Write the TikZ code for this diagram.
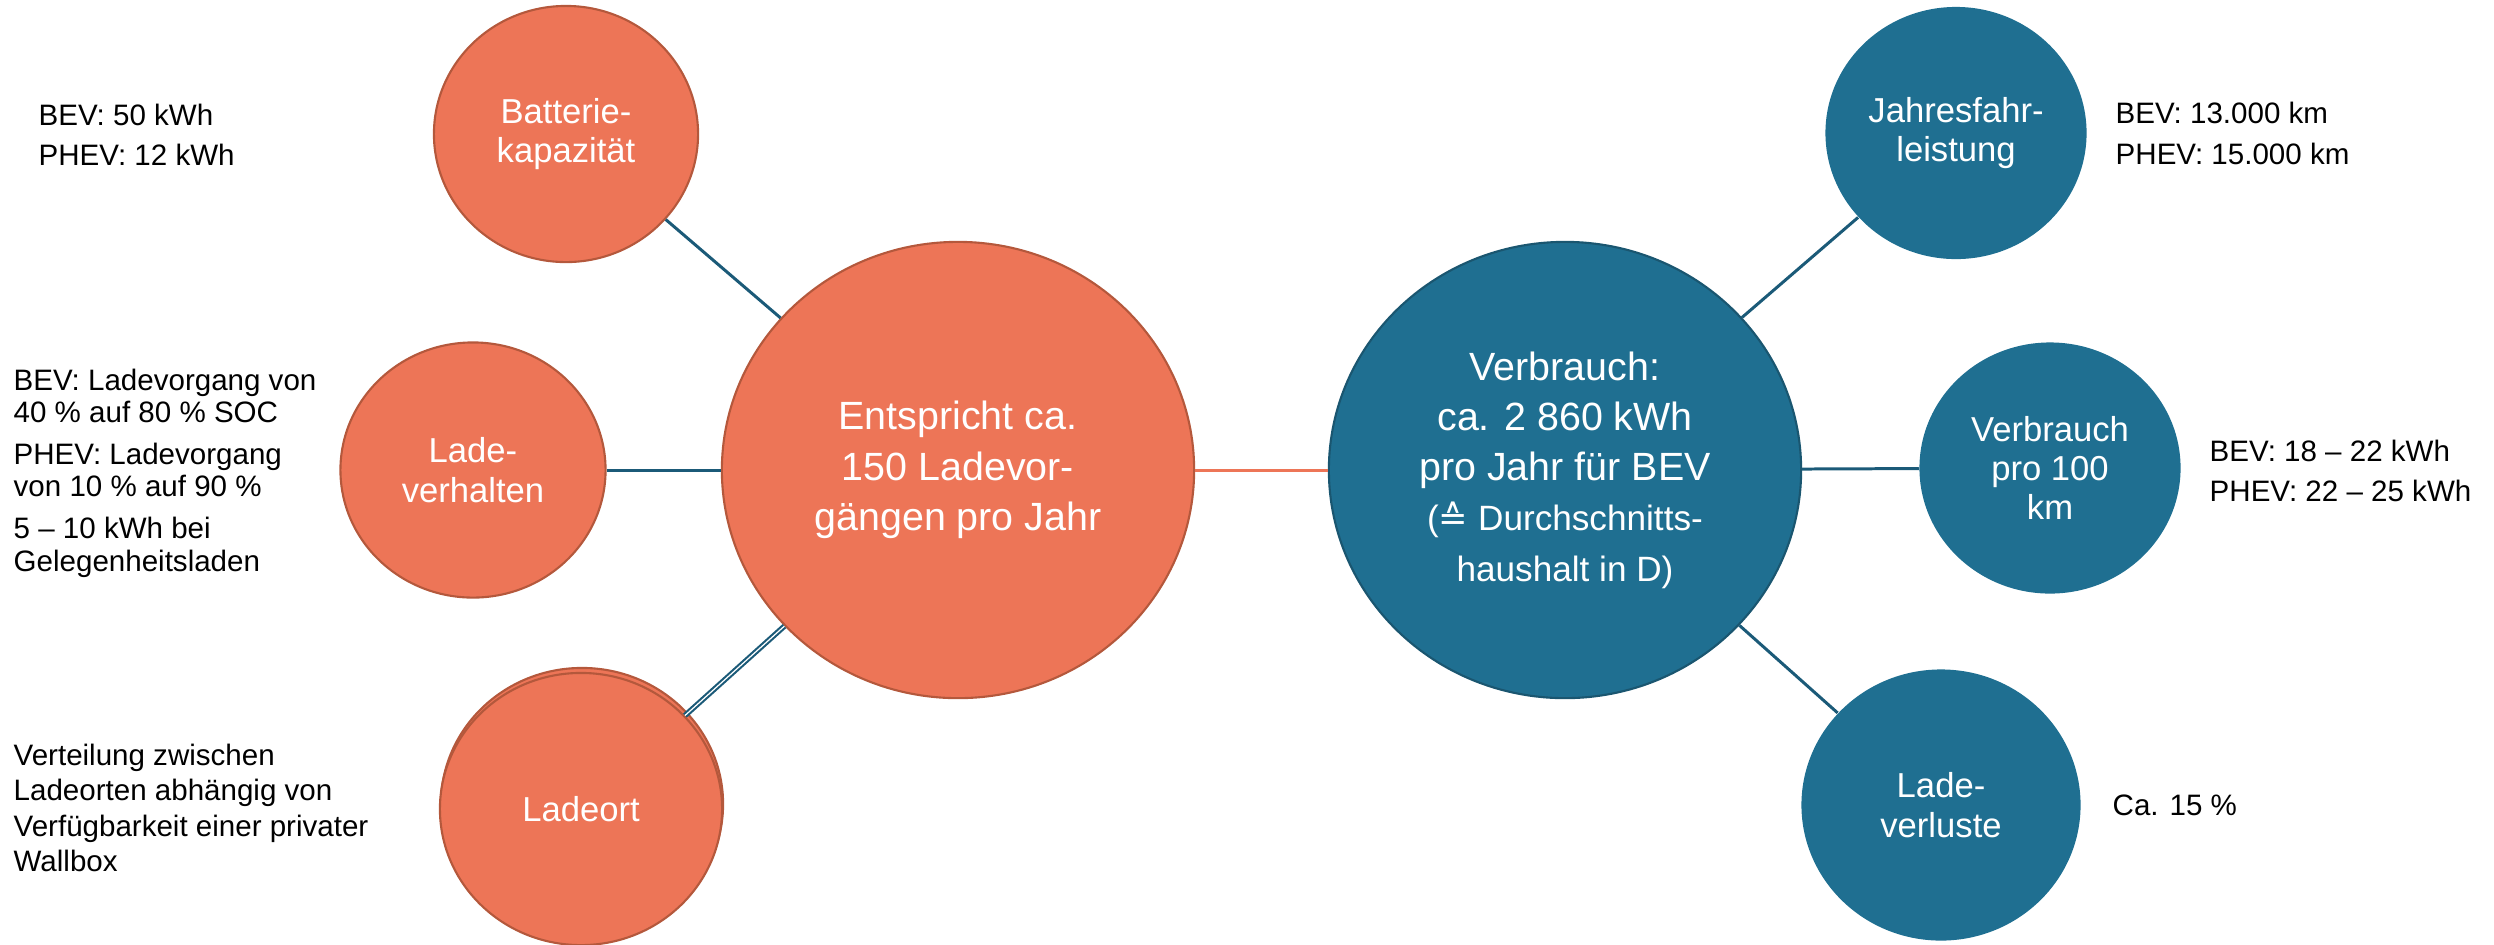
\documentclass[tikz,border=0pt]{standalone}
\usepackage{fontspec}
\setmainfont{Liberation Sans}
\newfontfamily\symbolfont{DejaVu Sans}
\usetikzlibrary{shapes.geometric}

\definecolor{OrangeFill}{HTML}{ED7557}
\definecolor{OrangeEdge}{HTML}{B4583C}
\definecolor{BlueFill}{HTML}{1F6F91}
\definecolor{BlueEdge}{HTML}{1A5670}
\definecolor{LineBlue}{HTML}{1B5A78}

\tikzset{
    bubble/.style={ellipse, inner sep=0pt, text=white, align=center},
    orangeBubble/.style={bubble, fill=OrangeFill, draw=OrangeEdge, line width=0.6pt},
    blueBubble/.style={bubble, fill=BlueFill},
    smallFont/.style={font=\fontsize{9.85}{11.2}\selectfont},
    bigFont/.style={font=\fontsize{11.2}{14.3}\selectfont},
    sideText/.style={anchor=north west, inner sep=0pt, align=left},
    link/.style={draw=LineBlue, line width=0.85pt},
}

\begin{document}
\begin{tikzpicture}[x=0.01cm, y=-0.01cm]
    \useasboundingbox (0,0) rectangle (2494,944);

    %Left side
    \node[orangeBubble, smallFont, minimum width=2.64cm, minimum height=2.56cm]
        (Batterie) at (566,134) {Batterie-\\kapazität};
    \node[orangeBubble, smallFont, minimum width=2.65cm, minimum height=2.55cm]
        (LadeVerhalten) at (473,470) {Lade-\\verhalten};
    \node[orangeBubble, minimum width=2.82cm, minimum height=2.72cm]
        (LadeortBack) at (582,804) {};
    \node[orangeBubble, smallFont, minimum width=2.82cm, minimum height=2.72cm]
        (Ladeort) at (581,809) {Ladeort};

    \node[orangeBubble, bigFont, minimum width=4.72cm, minimum height=4.56cm]
        (Entspricht) at (958,470) {Entspricht ca.\\150 Ladevor-\\gängen pro Jahr};

    %Right side
    \node[blueBubble, bigFont, draw=BlueEdge, line width=0.6pt, minimum width=4.72cm, minimum height=4.56cm]
        (Verbrauch) at (1565,470)
        {Verbrauch:\\ca. 2 860 kWh\\pro Jahr für BEV\\
         {\fontsize{10}{13.4}\selectfont({\symbolfont ≙} Durchschnitts-}\\
         {\fontsize{10}{13.4}\selectfont haushalt in D)}};

    \node[blueBubble, smallFont, minimum width=2.61cm, minimum height=2.52cm]
        (Jahresfahr) at (1956,133) {Jahresfahr-\\leistung};
    \node[blueBubble, smallFont, minimum width=2.61cm, minimum height=2.51cm]
        (Verbrauch100) at (2050,468) {Verbrauch\\pro 100\\km};
    \node[blueBubble, smallFont, minimum width=2.79cm, minimum height=2.71cm]
        (Ladeverluste) at (1941,805) {Lade-\\verluste};

    %Texts
    \node[sideText, font=\fontsize{8.4}{11.4}\selectfont] (BatterieText) at (38,103)
        {BEV: 50 kWh\\PHEV: 12 kWh};
    \node[sideText, font=\fontsize{8.4}{9.25}\selectfont] (VerhaltenText) at (13,368)
        {BEV: Ladevorgang von\\40 \% auf 80 \% SOC\\[2.6pt]
         PHEV: Ladevorgang\\von 10 \% auf 90 \%\\[2.6pt]
         5 – 10 kWh bei\\Gelegenheitsladen};
    \node[sideText, font=\fontsize{8.4}{10.1}\selectfont] (LadeortText) at (13,743)
        {Verteilung zwischen\\Ladeorten abhängig von\\Verfügbarkeit einer privater\\Wallbox};
    \node[sideText, font=\fontsize{8.4}{11.7}\selectfont] (JahresText) at (2115,101)
        {BEV: 13.000 km\\PHEV: 15.000 km};
    \node[sideText, font=\fontsize{8.4}{11.4}\selectfont] (VerbrauchText) at (2209,439)
        {BEV: 18 – 22 kWh\\PHEV: 22 – 25 kWh};
    \node[sideText, font=\fontsize{8.4}{11.4}\selectfont] (VerlusteText) at (2112,794)
        {Ca. 15 \%};

    %Lines
    \draw[link] (Batterie) -- (Entspricht);
    \draw[link] (LadeVerhalten) -- (Entspricht);
    \draw[link, line width=0.6pt, double=white, double distance=0.35pt] (Ladeort) -- (Entspricht);
    \draw[link, draw=OrangeFill] (Entspricht) -- (Verbrauch);

    \draw[link] (Verbrauch) -- (Jahresfahr);
    \draw[link] (Verbrauch) -- (Verbrauch100);
    \draw[link] (Verbrauch) -- (Ladeverluste);
\end{tikzpicture}
\end{document}
